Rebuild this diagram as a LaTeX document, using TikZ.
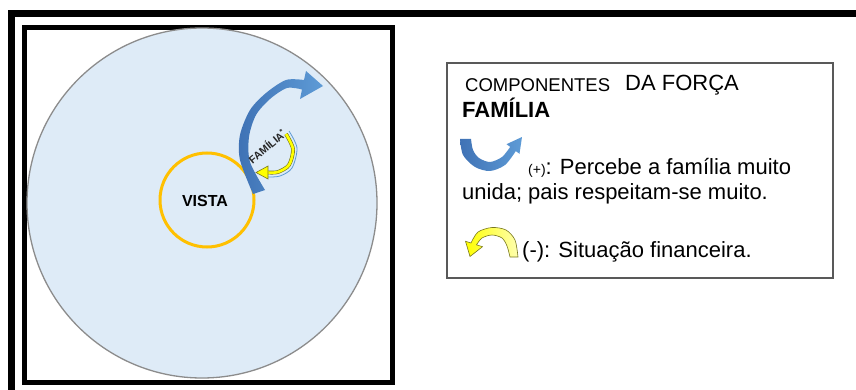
\documentclass[tikz,border=0pt]{standalone}
\usepackage{fontspec}
\setmainfont{Liberation Sans}
\usetikzlibrary{positioning}
\definecolor{cSky}{HTML}{DEEBF7}
\definecolor{cRim}{HTML}{8C8C8C}
\definecolor{cVista}{HTML}{FFC000}
\definecolor{cBlueD}{HTML}{3F72B5}
\definecolor{cBlueL}{HTML}{5E9BD6}
\definecolor{cYel}{HTML}{FFFF00}
\definecolor{cYelL}{HTML}{FFFFB0}
\definecolor{cYelEdge}{HTML}{77771E}
\definecolor{cBox}{HTML}{595959}
\tikzset{
  frame/.style={draw=black,line cap=rect},
  legbox/.style={draw=cBox,line width=1.3pt},
  txt/.style={anchor=base west,inner sep=0pt,font=\fontsize{22}{26}\selectfont},
  bluearr/.style={left color=cBlueD,right color=cBlueL},
  yelarr/.style={left color=cYel,right color=cYelL,draw=cYelEdge,line width=.6pt},
}
\begin{document}
\begin{tikzpicture}[x=1pt,y=-1pt]
  \useasboundingbox (0,0) rectangle (856,390);
  % outer frame (runs off the page)
  \draw[frame,line width=6.5pt] (11.5,400) -- (11.5,13.5) -- (870,13.5);
  % left panel
  \draw[frame,line width=5pt] (24.5,27.5) rectangle (392.5,382.5);
  \draw[fill=cSky,draw=cRim,line width=1.3pt] (202,203) circle (175pt);
  \draw[cVista,line width=3pt] (207,200) circle (47pt);
  \node[font=\bfseries\fontsize{16}{18}\selectfont] (vista) at (205,201) {VISTA};
  % big blue curved arrow
  \shade[bluearr]
    plot[smooth] coordinates {(253,194) (240,160) (240,135) (250,110) (266,93) (286,80) (304,80)}
    -- (306,71) -- (323,86) -- (300,99) -- (302,89.5)
    -- plot[smooth] coordinates {(302,89.5) (287,88) (270,99) (256,115) (249,137) (250,162) (265,190)} -- cycle;
  % small yellow arrow
  \draw[cBlueL,line width=.8pt] plot[smooth] coordinates {(289,131) (297,148) (292,168) (280,176) (268,177)};
  \draw[draw=cYelEdge,double=cYel,double distance=2.6pt,line width=.6pt]
    plot[smooth] coordinates {(286,134) (293,149) (289,165) (278,172) (268,172.5)};
  \filldraw[fill=cYel,draw=cYelEdge,line width=.6pt] (268,166) -- (256,172.5) -- (268,179) -- cycle;
  \node[font=\bfseries\fontsize{10.5}{12}\selectfont,rotate=40,inner sep=0pt,text=black!85] (fam) at (267,146) {FAMÍLIA\textsuperscript{*}};
  % legend
  \draw[legbox] (447,63) rectangle (833,278);
  \node[txt,font=\fontsize{18.5}{22}\selectfont] (comp) at (465,91.5) {COMPONENTES};
  \node[txt] (forca) at (625,90.5) {DA FORÇA};
  \node[txt,font=\bfseries\fontsize{22}{26}\selectfont] (famhead) at (462,118) {FAMÍLIA};
  \shade[bluearr]
    plot[smooth] coordinates {(460,139) (463,155) (475,167) (490,171) (505,165) (515.8,151.1)}
    -- (519.5,153.8) -- (522,137) -- (506.5,144.2) -- (510.2,146.9)
    -- plot[smooth] coordinates {(510.2,146.9) (502,157) (490,162) (479,158) (473,150) (471,139)} -- cycle;
  \node[txt] (pos) at (528,175) {{\fontsize{14}{16}\selectfont(+)}: Percebe a família muito};
  \node[txt] (pos2) at (462,200) {unida; pais respeitam-se muito.};
  \shadedraw[yelarr]
    plot[smooth] coordinates {(518,257) (515,240) (506,230) (492,227.5) (478,232) (471,243)}
    -- (465.5,241.3) -- (470,256.5) -- (482.5,246.7) -- (476.5,244.8)
    -- plot[smooth] coordinates {(476.5,244.8) (482,238) (492,235) (502,238) (507,246) (510,257)} -- cycle;
  \node[txt] (neg) at (522,257) {(-): Situação financeira.};
\end{tikzpicture}
\end{document}
